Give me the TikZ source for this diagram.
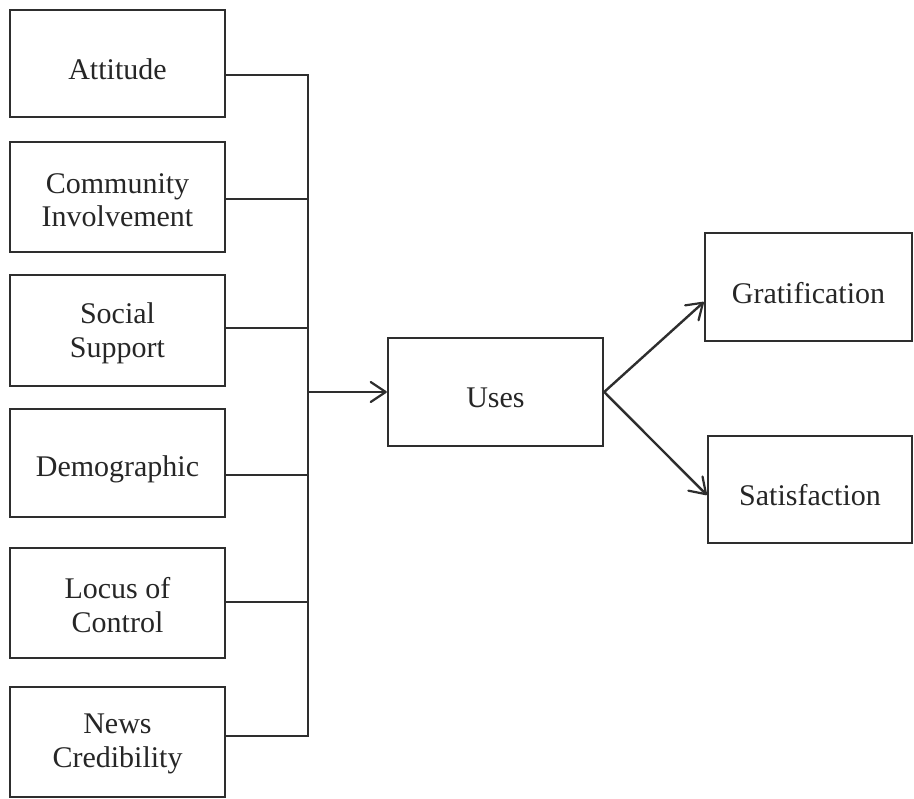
\documentclass[tikz,border=0pt]{standalone}
\usepackage{fontspec}
\setmainfont{Liberation Serif}
\usetikzlibrary{arrows.meta}
\begin{document}
\begin{tikzpicture}[x=1pt,y=-1pt,
  box/.style={draw=black!82, line width=2.4pt, inner sep=0pt},
  txt/.style={align=center, inner sep=0pt, text=black!85,
    font=\fontsize{30}{33.5}\selectfont},
  link/.style={draw=black!82, line width=2.4pt},
  flow/.style={link, line join=round,
    -{Straight Barb[length=15pt, width=20pt, line width=2.2pt, line join=round, line cap=round]}}]
\useasboundingbox (0,0) rectangle (914,799);
% factor boxes on the left
\node[box, minimum width=215pt, minimum height=107pt] (att)  at (117.5,63.5) {};
\node[box, minimum width=215pt, minimum height=110pt] (com)  at (117.5,197) {};
\node[box, minimum width=215pt, minimum height=111pt] (soc)  at (117.5,330.5) {};
\node[box, minimum width=215pt, minimum height=108pt] (dem)  at (117.5,463) {};
\node[box, minimum width=215pt, minimum height=110pt] (loc)  at (117.5,603) {};
\node[box, minimum width=215pt, minimum height=110pt] (news) at (117.5,742) {};
% central and outcome boxes
\node[box, minimum width=215pt, minimum height=108pt] (uses) at (495.5,392) {};
\node[box, minimum width=207pt, minimum height=108pt] (grat) at (808.5,287) {};
\node[box, minimum width=204pt, minimum height=107pt] (sat)  at (810,489.5) {};
% box captions, set a little below each box centre
\node[txt] (attT)  at ([yshift=-6pt]att.center)  {Attitude};
\node[txt] (comT)  at ([yshift=-3pt]com.center)  {Community\\Involvement};
\node[txt] (socT)  at ([yshift=-3pt]soc.center)  {Social\\Support};
\node[txt] (demT)  at ([yshift=-6pt]dem.center)  {Demographic};
\node[txt] (locT)  at ([yshift=-2pt]loc.center)  {Locus of\\Control};
\node[txt] (newsT) at ([yshift=-2pt]news.center) {News\\Credibility};
\node[txt] (usesT) at ([yshift=-6pt]uses.center) {Uses};
\node[txt] (gratT) at ([yshift=-6pt]grat.center) {Gratification};
\node[txt] (satT)  at ([yshift=-6pt]sat.center)  {Satisfaction};
% collecting bus
\coordinate (j1) at (308,75);
\coordinate (j2) at (308,199);
\coordinate (j3) at (308,328);
\coordinate (j4) at (308,475);
\coordinate (j5) at (308,602);
\coordinate (j6) at (308,736);
\coordinate (hub) at (308,392);
\draw[link] (att.east |- j1) -- (j1);
\draw[link] (com.east |- j2) -- (j2);
\draw[link] (soc.east |- j3) -- (j3);
\draw[link] (dem.east |- j4) -- (j4);
\draw[link] (loc.east |- j5) -- (j5);
\draw[link] (news.east |- j6) -- (j6);
\draw[link, line cap=rect] (j1) -- (j6);
\draw[flow] (hub) -- (uses.west);
\draw[flow] (uses.east) -- ([yshift=-15pt]grat.west);
\draw[flow] (uses.east) -- ([yshift=-5.5pt]sat.west);
\end{tikzpicture}
\end{document}
